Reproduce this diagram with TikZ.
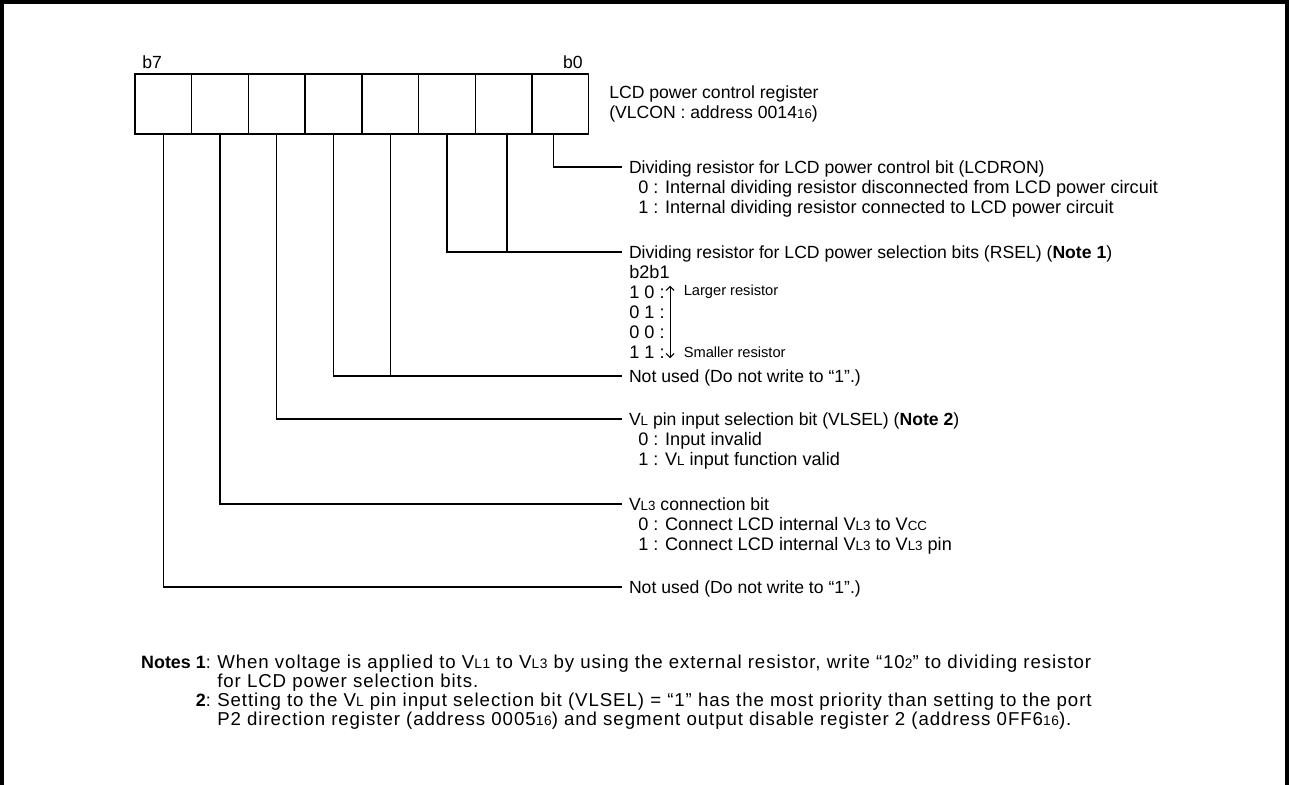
\documentclass[tikz,border=0pt]{standalone}
\usepackage{fontspec}
\setmainfont{Liberation Sans}
\newfontfamily\notefont[LetterSpace=5]{Liberation Sans}
\usepackage{tikz}
\usetikzlibrary{arrows.meta,positioning,calc}
\newcommand{\lo}[1]{{\fontsize{10pt}{10pt}\selectfont #1}}
\newcommand{\nlo}[1]{{\fontsize{10.3pt}{10pt}\selectfont #1}}

\begin{document}
\begin{tikzpicture}[x=0.75pt,y=-0.75pt,
    every node/.style={inner sep=0pt,font=\fontsize{13.2pt}{15pt}\selectfont},
    cell/.style={draw,line width=1pt,minimum width=42.53pt,minimum height=45pt},
    lead/.style={line width=1pt},
    ttl/.style={anchor=west,text height=9pt,text depth=0pt,outer xsep=5.25pt},
    sub/.style={anchor=west,text height=9pt,text depth=0pt,font=\fontsize{13.6pt}{15pt}\selectfont},
    note/.style={anchor=west,text height=9pt,text depth=0pt,font=\notefont\fontsize{14pt}{15pt}\selectfont}]
  \useasboundingbox (0,0) rectangle (1289,785);
  \draw[line width=3pt] (2,785) -- (2,2) -- (1287,2) -- (1287,785);

  % register
  \foreach \i in {0,...,7}
    \node[cell] (c\i) at ({560.35-56.71*\i},104) {};
  \node[anchor=base west] (lb7) at (142,68) {b7};
  \node[anchor=base east] (lb0) at (583,68) {b0};
  \node[anchor=west,align=left] (reg) at (609,104)
    {LCD power control register\\(VLCON : address 0014\lo{16})};

  % bit 0
  \node[ttl] (t0) at (622,167) {Dividing resistor for LCD power control bit (LCDRON)};
  \node[sub] (s0a) at (638,187) {0 : Internal dividing resistor disconnected from LCD power circuit};
  \node[sub] (s0b) at (638,207) {1 : Internal dividing resistor connected to LCD power circuit};

  % bits 2,1
  \node[ttl] (t1) at (622,252) {Dividing resistor for LCD power selection bits (RSEL) (\textbf{Note 1})};
  \node[sub] (s1) at (629,272) {b2b1};
  \foreach \v/\k in {{1 0}/1,{0 1}/2,{0 0}/3,{1 1}/4}
    \node[sub] (r\k) at (629,{272+20*\k}) {\v\ :};
  \draw[{Straight Barb[length=3pt]}-{Straight Barb[length=3pt]},line width=0.8pt]
    ([xshift=4pt]r1.north east) -- ([xshift=4pt]r4.south east);
  \node[anchor=west,font=\fontsize{11pt}{13pt}\selectfont] (lg) at ([xshift=14pt]r1.east) {Larger resistor};
  \node[anchor=west,font=\fontsize{11pt}{13pt}\selectfont] (sm) at ([xshift=14pt]r4.east) {Smaller resistor};

  % bits 4,3
  \node[ttl] (t3) at (622,376) {Not used (Do not write to “1”.)};

  % bit 5
  \node[ttl] (t5) at (622,419) {V\lo{L} pin input selection bit (VLSEL) (\textbf{Note 2})};
  \node[sub] (s5a) at (638,439) {0 : Input invalid};
  \node[sub] (s5b) at (638,459) {1 : V\lo{L} input function valid};

  % bit 6
  \node[ttl] (t6) at (622,504) {V\lo{L3} connection bit};
  \node[sub] (s6a) at (638,524) {0 : Connect LCD internal V\lo{L3} to V\lo{CC}};
  \node[sub] (s6b) at (638,544) {1 : Connect LCD internal V\lo{L3} to V\lo{L3} pin};

  % bit 7
  \node[ttl] (t7) at (622,587) {Not used (Do not write to “1”.)};

  % leads
  \draw[lead] ([xshift=-5pt]c0.south) |- (t0.west);
  \draw[lead] (c2.south) |- (t1.west);
  \draw[lead] ([xshift=2.4pt]c1.south) -- ([xshift=2.4pt]c1.south |- t1.west);
  \draw[lead] (c4.south) |- (t3.west);
  \draw[lead] (c3.south) -- (c3.south |- t3.west);
  \draw[lead] (c5.south) |- (t5.west);
  \draw[lead] (c6.south) |- (t6.west);
  \draw[lead] (c7.south) |- (t7.west);

  % notes
  \node[note,anchor=east,font=\fontsize{13.4pt}{15pt}\selectfont] (nl1) at (211,662) {\textbf{Notes 1}:};
  \node[note] (n1a) at (217,662) {When voltage is applied to V\nlo{L1} to V\nlo{L3} by using the external resistor, write “10\nlo{2}” to dividing resistor};
  \node[note] (n1b) at (217,681) {for LCD power selection bits.};
  \node[note,anchor=east,font=\fontsize{13.4pt}{15pt}\selectfont] (nl2) at (211,700) {\textbf{2}:};
  \node[note] (n2a) at (217,700) {Setting to the V\nlo{L} pin input selection bit (VLSEL) = “1” has the most priority than setting to the port};
  \node[note] (n2b) at (217,719) {P2 direction register (address 0005\nlo{16}) and segment output disable register 2 (address 0FF6\nlo{16}).};
\end{tikzpicture}
\end{document}
